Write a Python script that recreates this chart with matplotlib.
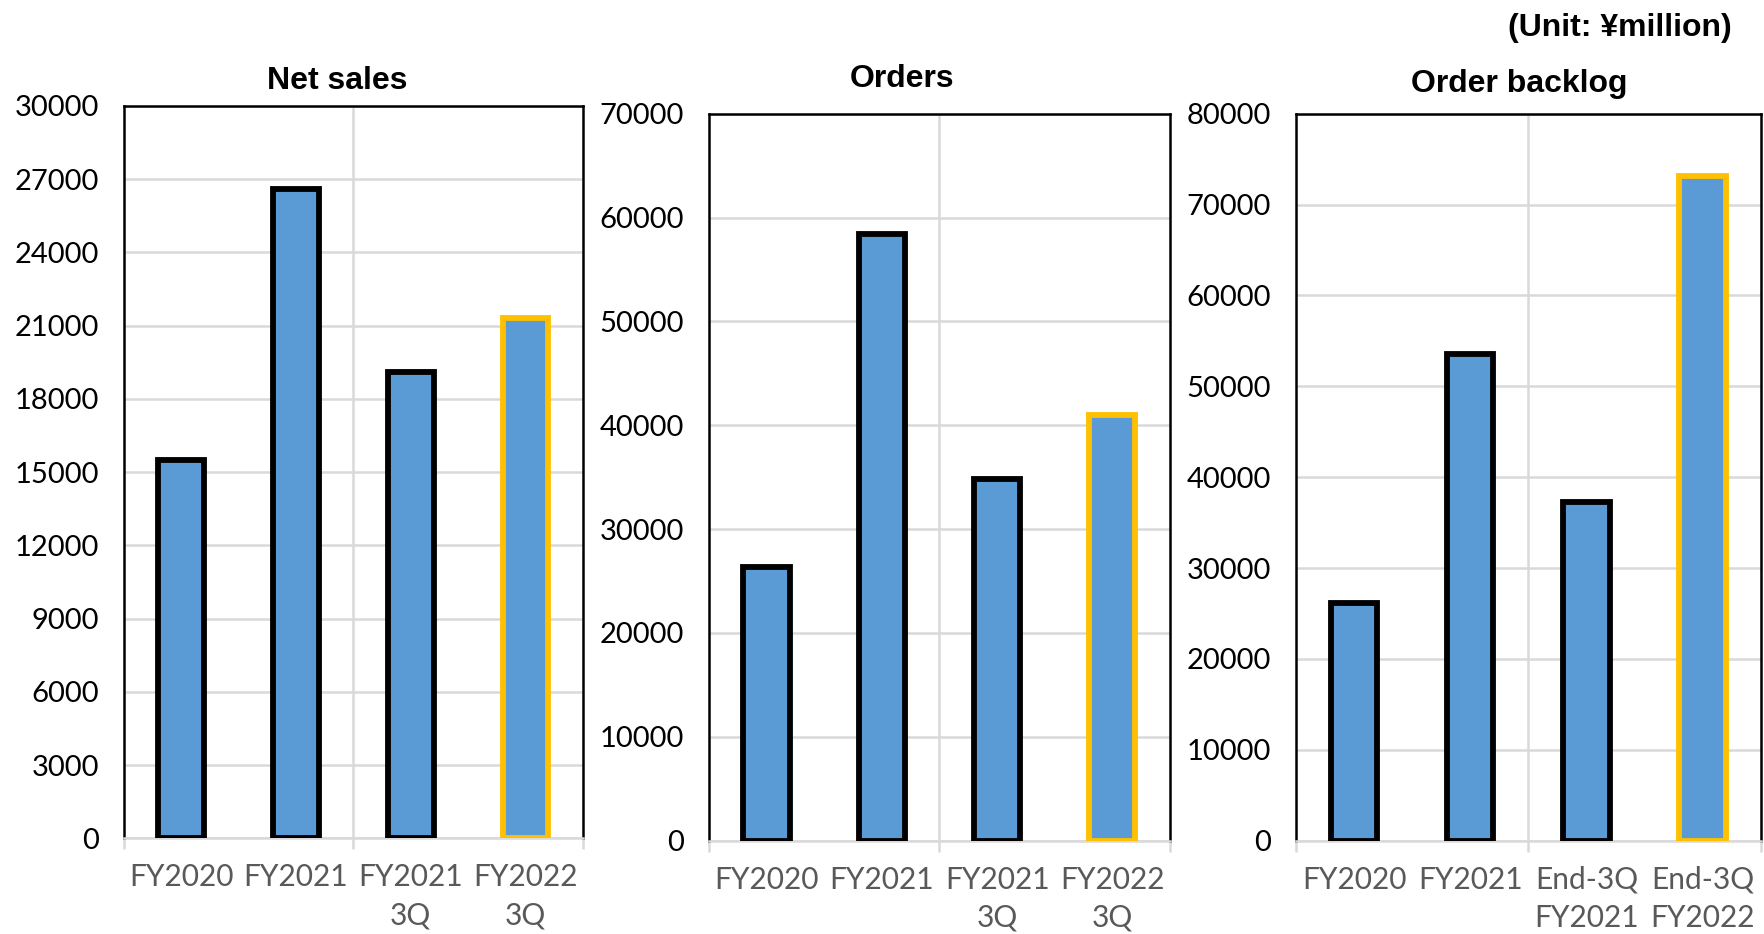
import matplotlib
matplotlib.use("Agg")
import matplotlib.pyplot as plt
import numpy as np

# values (unit: million yen)
sales_labels = ["FY2020", "FY2021", "FY2021\n3Q", "FY2022\n3Q"]
sales_values = [15500, 26600, 19100, 21300]

orders_labels = ["FY2020", "FY2021", "FY2021\n3Q", "FY2022\n3Q"]
orders_values = [26300, 58400, 34800, 41000]

backlog_labels = ["FY2020", "FY2021", "End-3Q\nFY2021", "End-3Q\nFY2022"]
backlog_values = [26100, 53500, 37300, 73100]

panels = [
    ("Net sales", sales_labels, sales_values, 30000, 3000,
     [0.0702, 0.1024, 0.2602, 0.7843], (0.191, 0.913)),
    ("Orders", orders_labels, orders_values, 70000, 10000,
     [0.4018, 0.1000, 0.2615, 0.7783], (0.5115, 0.9157)),
    ("Order backlog", backlog_labels, backlog_values, 80000, 10000,
     [0.7347, 0.1000, 0.2634, 0.7783], (0.861, 0.9096)),
]

fill = "#5B9BD5"
grid_c = "#D9D9D9"
tick_font = "Lato"

fig = plt.figure(figsize=(17.64, 9.34), dpi=100)

for title, labels, vals, ymax, step, rect, tpos in panels:
    ax = fig.add_axes(rect)
    x = np.arange(len(vals))
    edges = ["black"] * (len(vals) - 1) + ["#FFC000"]
    ax.bar(x, vals, width=0.4, color=fill, edgecolor=edges, linewidth=4.2, zorder=3)
    ax.set_xlim(-0.5, len(vals) - 0.5)
    ax.set_ylim(0, ymax)
    ax.set_yticks(np.arange(0, ymax + 1, step))
    ax.yaxis.grid(True, color=grid_c, linewidth=1.8, zorder=0)
    ax.axvline(1.5, color=grid_c, linewidth=1.8, zorder=0)

    ax.set_xticks(x)
    ax.set_xticklabels(labels, fontsize=21.5, color="#595959", family=tick_font,
                       linespacing=1.45)
    ax.set_xticks([-0.5, 1.5, 3.5], minor=True)
    ax.tick_params(axis="x", which="major", length=0, pad=18)
    ax.tick_params(axis="x", which="minor", length=8, width=1.8, color=grid_c)
    ax.tick_params(axis="y", length=0, pad=18)
    for lab in ax.get_yticklabels():
        lab.set_fontsize(21)
        lab.set_family(tick_font)
        lab.set_color("black")

    for side in ["left", "right", "top"]:
        ax.spines[side].set_color("black")
        ax.spines[side].set_linewidth(1.8)
    ax.spines["bottom"].set_color(grid_c)
    ax.spines["bottom"].set_linewidth(1.8)

    fig.text(tpos[0], tpos[1], title, ha="center", va="center", fontsize=23,
             fontweight="bold", family="Liberation Sans")

fig.text(0.982, 0.97, "(Unit: ¥million)", ha="right", va="center", fontsize=23,
         fontweight="bold", family="Liberation Sans")

fig.savefig("out.png", dpi=100)
